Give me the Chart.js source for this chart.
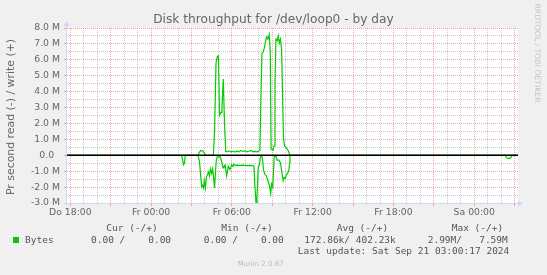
<!DOCTYPE html>
<html><head><meta charset="utf-8">
<script src="https://cdn.jsdelivr.net/npm/chart.js@4.4.1/dist/chart.umd.min.js"></script>
<style>
html,body{margin:0;padding:0;background:#f0f0f0;}
#wrap{position:relative;width:547px;height:275px;overflow:hidden;background:#f0f0f0;}
canvas{position:absolute;left:0;top:0;}
.t{position:absolute;white-space:pre;color:#666;font-family:'DejaVu Sans';}
.m{position:absolute;white-space:pre;color:#555;font-family:'DejaVu Sans Mono';font-size:9.5px;line-height:12px;height:12px;}
</style></head><body>
<div id="wrap">
<canvas id="c" width="547" height="275"></canvas>
<div class="t" id="title" style="left:0;width:547px;text-align:center;top:12px;font-size:12.2px;line-height:14px;"></div>
<div class="t" id="ytitle" style="left:-89.5px;top:109.7px;width:200px;height:14px;line-height:14px;text-align:center;font-size:10.9px;transform:rotate(-90deg);"></div>
<div class="t" id="wm" style="left:476.7px;top:48.3px;width:120px;height:10px;line-height:10px;text-align:center;font-size:7.7px;color:#c4c4c4;transform:rotate(90deg);"></div>
<div class="t" id="munin" style="left:200px;width:121.4px;text-align:center;top:259px;font-size:7.1px;line-height:10px;color:#bbb;"></div>
<div id="legend"></div>
</div>
<script>
// ---- data (values in M bytes / second) ----
const tickHours  = [0, 6, 12, 18, 24, 30];
const tickLabels = ['Do 18:00', 'Fr 00:00', 'Fr 06:00', 'Fr 12:00', 'Fr 18:00', 'Sa 00:00'];

const writeHours  = [-0.25, 9.48, 9.59, 9.70, 9.85, 9.96, 10.04, 10.62, 10.71, 10.82, 10.91, 11.00, 11.08, 11.19, 11.26, 11.36, 11.45, 11.54, 11.63, 11.78, 11.93, 12.08, 12.23, 12.38, 12.53, 12.67, 12.82, 12.97, 13.12, 13.27, 13.42, 13.56, 13.71, 13.86, 14.01, 14.08, 14.16, 14.23, 14.33, 14.42, 14.49, 14.58, 14.68, 14.77, 14.85, 14.91, 15.05, 15.13, 15.20, 15.27, 15.37, 15.44, 15.52, 15.60, 15.69, 15.77, 15.83, 15.90, 16.01, 16.18, 16.31, 33.25];
const writeValues = [0, 0, 0.2, 0.3, 0.27, 0.12, 0, 0, 1.5, 5.8, 6.2, 6.25, 2.5, 2.7, 3.0, 4.8, 2.0, 0.25, 0.22, 0.28, 0.22, 0.25, 0.2, 0.27, 0.22, 0.3, 0.24, 0.28, 0.21, 0.25, 0.3, 0.22, 0.25, 0.22, 0.27, 0.3, 4.0, 6.4, 6.5, 6.8, 7.15, 7.45, 7.3, 7.59, 6.5, 0.4, 0.3, 0.6, 4.5, 7.3, 7.2, 7.5, 7.05, 7.3, 6.7, 3.6, 1.1, 0.6, 0.5, 0.3, 0, 0];

const readHours  = [-0.25, 8.26, 8.34, 8.40, 8.47, 8.54, 9.48, 9.59, 9.67, 9.76, 9.83, 9.89, 9.95, 10.03, 10.10, 10.19, 10.26, 10.33, 10.41, 10.50, 10.57, 10.63, 10.71, 10.77, 10.84, 10.91, 11.15, 11.26, 11.34, 11.41, 11.49, 11.61, 11.73, 11.86, 11.98, 12.08, 12.15, 12.26, 12.38, 12.60, 12.85, 13.10, 13.35, 13.60, 13.64, 13.71, 13.79, 13.86, 13.96, 14.05, 14.12, 14.21, 14.28, 14.34, 14.45, 14.56, 14.68, 14.79, 14.88, 14.95, 15.03, 15.08, 15.14, 15.27, 15.35, 15.50, 15.61, 15.69, 15.81, 15.89, 15.98, 16.05, 16.13, 16.24, 16.28, 16.31, 32.31, 32.38, 32.50, 32.65, 32.75, 32.83, 33.25];
const readValues = [0, 0, -0.3, -0.6, -0.5, 0, 0, -0.4, -1.2, -2.0, -1.9, -2.05, -1.6, -2.05, -1.4, -1.2, -1.05, -1.3, -0.85, -1.15, -0.85, -1.3, -2.05, -1.2, -0.3, -0.1, -0.1, -0.5, -0.8, -0.7, -0.6, -1.3, -0.7, -0.9, -0.6, -0.7, -0.55, -0.65, -0.62, -0.64, -0.62, -0.65, -0.63, -0.66, -0.7, -2.0, -2.99, -2.6, -0.75, -0.6, -0.1, 0, -0.3, -0.9, -1.2, -1.3, -1.6, -1.9, -2.4, -1.8, -2.0, -1.2, -0.1, -0.05, -0.3, -0.3, -0.5, -0.95, -1.6, -1.4, -1.45, -1.2, -1.15, -0.9, -0.5, 0, 0, -0.15, -0.2, -0.2, -0.1, 0, 0];

const legendHeaders = ['Cur (-/+)', 'Min (-/+)', 'Avg (-/+)', 'Max (-/+)'];
const legendSeries  = 'Bytes';
const legendValues  = ['0.00 /    0.00', '0.00 /    0.00', '172.86k/ 402.23k', '2.99M/   7.59M'];
const lastUpdate    = 'Last update: Sat Sep 21 03:00:17 2024';

// ---- texts ----
document.getElementById('title').textContent = 'Disk throughput for /dev/loop0 - by day';
document.getElementById('ytitle').textContent = 'Pr second read (-) / write (+)';
document.getElementById('wm').textContent = 'RRDTOOL / TOBI OETIKER';
document.getElementById('munin').textContent = 'Munin 2.0.67';

const wrap = document.getElementById('wrap');
function addM(text, left, top) {
  const d = document.createElement('div');
  d.className = 'm'; d.textContent = text;
  d.style.left = left + 'px'; d.style.top = top + 'px';
  wrap.appendChild(d);
}
const headLeft = [106.3, 221.3, 336.7, 451.7];
const valLeft = [91, 203.7, 304.3, 427.7];
legendHeaders.forEach((h, i) => addM(h, headLeft[i], 222.3));
legendValues.forEach((v, i) => addM(v, valLeft[i], 233.7));
addM(legendSeries, 25, 233.7);
addM(lastUpdate, 297.7, 245);
const sq = document.createElement('div');
sq.style.cssText = 'position:absolute;left:13px;top:237px;width:6px;height:6px;background:#00cc00;';
wrap.appendChild(sq);

// ---- chart ----
const writeData = writeHours.map((h, i) => ({x: h, y: writeValues[i]}));
const readData = readHours.map((h, i) => ({x: h, y: readValues[i]}));

const RED = 'rgba(222,79,79,0.5)';
const GRAY = 'rgba(143,143,143,0.45)';
const AXIS = '#CFD6F8';

const canvasBg = {
  id: 'canvasBg',
  beforeDraw(chart) {
    const {ctx, chartArea: a} = chart;
    ctx.save();
    ctx.fillStyle = '#ffffff';
    ctx.fillRect(a.left, a.top, a.right - a.left, a.bottom - a.top);
    ctx.restore();
  }
};

const decor = {
  id: 'decor',
  afterDatasetsDraw(chart) {
    const {ctx, chartArea: a, scales} = chart;
    ctx.save();
    // axes with arrows
    ctx.strokeStyle = AXIS; ctx.fillStyle = AXIS; ctx.lineWidth = 1;
    const lx = Math.round(a.left) - 0.5;
    const by = Math.round(a.bottom) + 0.5;
    ctx.beginPath(); ctx.moveTo(lx, a.bottom + 3); ctx.lineTo(lx, a.top - 4); ctx.stroke();
    ctx.beginPath(); ctx.moveTo(lx - 3, a.top - 2); ctx.lineTo(lx + 3, a.top - 2); ctx.lineTo(lx, a.top - 7); ctx.closePath(); ctx.fill();
    ctx.beginPath(); ctx.moveTo(a.left - 3, by); ctx.lineTo(a.right + 2, by); ctx.stroke();
    ctx.beginPath(); ctx.moveTo(a.right, by - 3); ctx.lineTo(a.right, by + 3); ctx.lineTo(a.right + 5, by); ctx.closePath(); ctx.fill();
    // zero line
    const y0 = scales.y.getPixelForValue(0);
    ctx.strokeStyle = '#000'; ctx.lineWidth = 1.7;
    ctx.beginPath(); ctx.moveTo(a.left, y0); ctx.lineTo(a.right, y0); ctx.stroke();
    ctx.restore();
  }
};

new Chart(document.getElementById('c'), {
  type: 'line',
  data: {
    datasets: [
      {label: 'write', data: writeData, borderColor: '#00cc00', borderWidth: 1.2, pointRadius: 0, tension: 0, fill: false},
      {label: 'read', data: readData, borderColor: '#00cc00', borderWidth: 1.2, pointRadius: 0, tension: 0, fill: false}
    ]
  },
  options: {
    responsive: false,
    devicePixelRatio: 1,
    animation: false,
    events: [],
    layout: {padding: {left: 0, right: 29, top: 28, bottom: 52}},
    plugins: {legend: {display: false}, tooltip: {enabled: false}, title: {display: false}},
    scales: {
      x: {
        type: 'linear', min: -0.25, max: 33.25,
        afterFit(s) { s.height = 20; },
        border: {display: false, dash: [1, 1]},
        grid: {
          color: c => (c.tick && c.tick.value % 3 === 0) ? RED : GRAY,
          tickColor: c => (c.tick && c.tick.value % 3 === 0) ? RED : 'rgba(0,0,0,0)',
          lineWidth: 1, drawTicks: true, tickLength: 3
        },
        ticks: {
          stepSize: 1, autoSkip: false, includeBounds: false, maxRotation: 0, padding: 1,
          color: '#666', font: {family: 'DejaVu Sans', size: 9.3},
          callback: v => { const i = tickHours.indexOf(v); return i >= 0 ? tickLabels[i] : ''; }
        }
      },
      y: {
        min: -3, max: 8,
        afterFit(s) { s.width = 67; },
        border: {display: false, dash: [1, 1]},
        grid: {
          color: c => (c.tick && Number.isInteger(c.tick.value)) ? RED : GRAY,
          tickColor: c => (c.tick && Number.isInteger(c.tick.value)) ? RED : 'rgba(0,0,0,0)',
          lineWidth: 1, drawTicks: true, tickLength: 3
        },
        ticks: {
          stepSize: 0.5, autoSkip: false, padding: 4,
          color: '#666', font: {family: 'DejaVu Sans', size: 9.3},
          callback: v => Number.isInteger(v) ? (v === 0 ? '0.0  ' : v.toFixed(1) + ' M') : ''
        }
      }
    }
  },
  plugins: [canvasBg, decor]
});
</script>
</body></html>
